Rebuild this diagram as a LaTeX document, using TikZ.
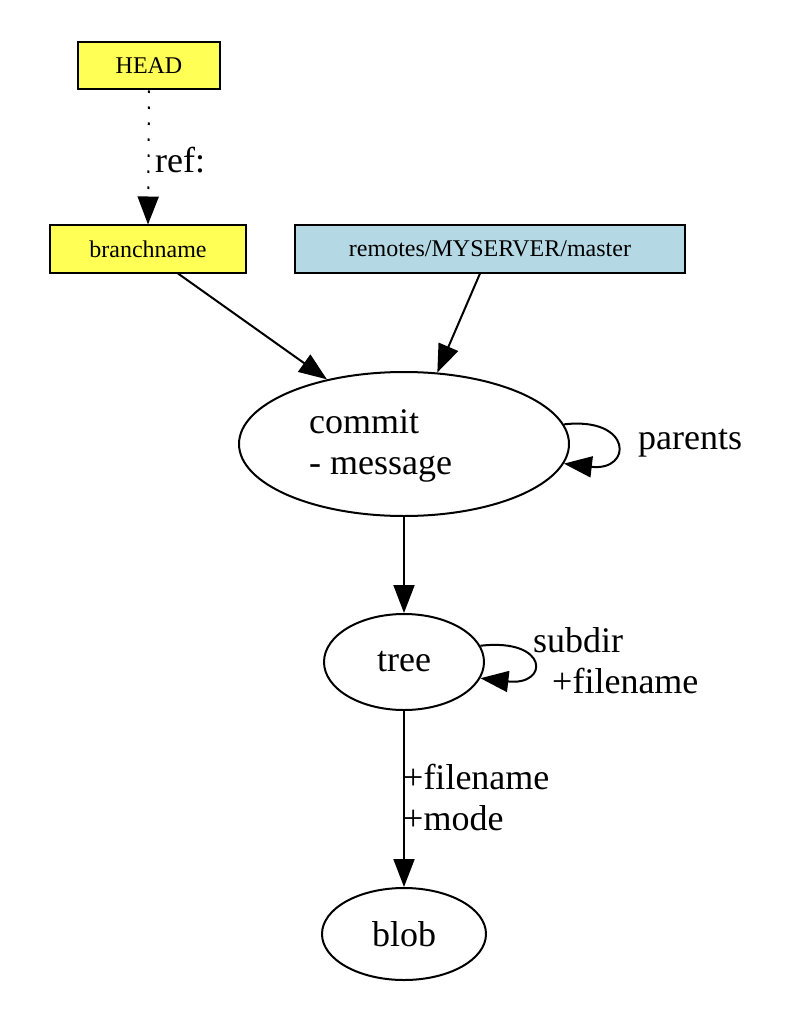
\documentclass[tikz,border=0pt]{standalone}
\usepackage{fontspec}
\setmainfont{Liberation Serif}
\usepackage{tikz}
\usetikzlibrary{arrows.meta,shapes.geometric}
\definecolor{refYellow}{RGB}{255,255,85}
\definecolor{refBlue}{RGB}{180,216,228}

\begin{document}
\begin{tikzpicture}[
  x=1pt,y=-1pt,
  font=\fontsize{36}{41}\selectfont,
  refbox/.style={draw=black,line width=2pt,fill=refYellow,inner sep=0pt,
                 minimum height=47pt,font=\fontsize{24}{28}\selectfont},
  obj/.style={draw=black,line width=2pt,ellipse,inner sep=0pt},
  link/.style={-{Triangle[length=28pt,width=21pt]},line width=2pt,black},
  lbl/.style={inner sep=0pt,align=left},
]
\useasboundingbox (0,0) rectangle (810,1024);

% refs
\node[refbox,minimum width=142pt] (head) at (149,66) {HEAD};
\node[refbox,minimum width=196pt] (branch) at (148,249) {branchname};
\node[refbox,fill=refBlue,minimum width=390pt] (remote) at (490,249) {remotes/MYSERVER/master};

% objects
\node[obj,minimum width=330pt,minimum height=144pt] (commit) at (404,444) {};
\node[lbl,anchor=west] (commitText) at (309,446) {commit\\- message};
\node[obj,minimum width=160pt,minimum height=96pt] (tree) at (404,662) {tree};
\node[obj,minimum width=164pt,minimum height=92pt] (blob) at (404,934) {blob};

% HEAD points to the branch
\draw[link,dash pattern=on 2.5pt off 13.5pt] (head.south) -- (branch.north);
\node[lbl,anchor=west] (refLbl) at (155,160) {ref:};

% refs to commit
\draw[link] ([xshift=30]branch.south) -- (commit.140);
\draw[link] ([xshift=-10]remote.south) -- (commit.65);

% commit parents
\draw[link] (commit.7) .. controls +(69,-8) and +(69,8) .. (commit.-7);
\node[lbl,anchor=west] (parentsLbl) at (638,443) {parents};

% commit to tree
\draw[link] (commit.south) -- (tree.north);

% subdirectories
\draw[link] (tree.12) .. controls +(69,-8) and +(69,8) .. (tree.-12);
\node[lbl,anchor=west] (subdirLbl) at (533,661) {subdir\\\hspace*{19pt}+filename};

% tree to blob
\draw[link] (tree.south) -- (blob.north);
\node[lbl,anchor=west] (fileLbl) at (403,797) {+filename\\+mode};
\end{tikzpicture}
\end{document}
